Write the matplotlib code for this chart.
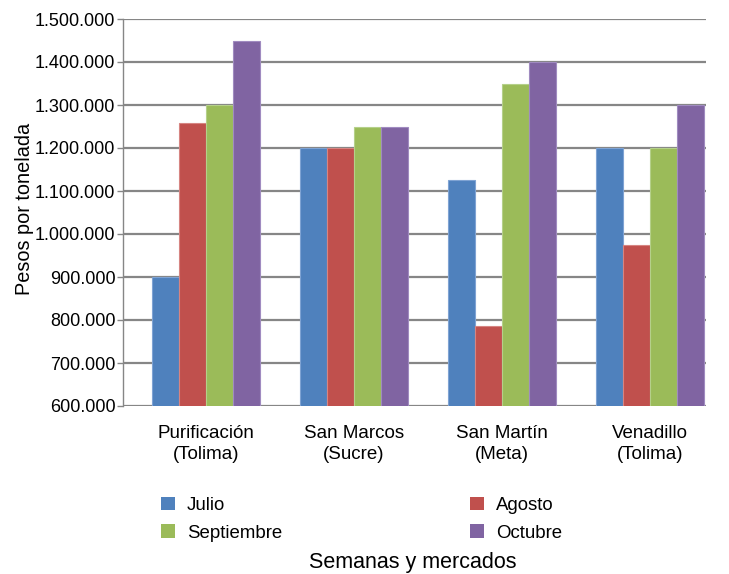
import matplotlib
matplotlib.use("Agg")
import matplotlib.pyplot as plt
import numpy as np
from matplotlib.ticker import FuncFormatter
from matplotlib.patches import Patch

categories = ["Purificación\n(Tolima)", "San Marcos\n(Sucre)", "San Martín\n(Meta)", "Venadillo\n(Tolima)"]
series_names = ["Julio", "Agosto", "Septiembre", "Octubre"]
julio = [900000, 1200000, 1125000, 1200000]
agosto = [1257000, 1200000, 785000, 975000]
septiembre = [1300000, 1250000, 1350000, 1200000]
octubre = [1450000, 1250000, 1400000, 1300000]
colors = ["#4F81BD", "#C0504D", "#9BBB59", "#8064A2"]
edges = ["#7FA3D3", "#D68582", "#B5D08A", "#A08BC0"]

plt.rcParams['font.family'] = ['Liberation Sans', 'DejaVu Sans']
fig = plt.figure(figsize=(7.29, 5.74), dpi=100)
ax = fig.add_axes([123/729, 1-406/574, (706-123)/729, (406-19)/574])

x = np.arange(len(categories))
w = 0.1824
data = [julio, agosto, septiembre, octubre]
handles = []
for i, (vals, c, e, n) in enumerate(zip(data, colors, edges, series_names)):
    ax.bar(x + (i - 1.5) * w, vals, width=w, color=c, edgecolor=e, linewidth=0.8, label=n, zorder=3)
    handles.append(Patch(facecolor=c, label=n))

ax.set_xlim(-0.561, 3.378)
ax.set_ylim(600000, 1500000)
ax.set_yticks(np.arange(600000, 1500001, 100000))
ax.yaxis.set_major_formatter(FuncFormatter(lambda v, p: f"{int(v):,}".replace(",", ".")))
ax.set_xticks(x)
ax.set_xticklabels(categories, fontsize=13.5, linespacing=1.25)
ax.tick_params(axis='y', labelsize=13, length=4, color="#868686", width=1, pad=1.5)
ax.tick_params(axis='x', length=0, pad=14)
ax.grid(axis='y', color="#868686", linewidth=1.6, zorder=0)
ax.set_axisbelow(True)
for s in ["top", "right", "bottom"]:
    ax.spines[s].set_visible(False)
ax.spines["left"].set_color("#868686")
ax.spines["left"].set_linewidth(1)

fig.text(25/729, 1-209/574, "Pesos por tonelada", rotation=90, ha="center", va="center", fontsize=14.3)

order = [handles[0], handles[2], handles[1], handles[3]]
fig.legend(handles=order, ncol=2, loc="upper left", bbox_to_anchor=(144.3/729, 1-480/574),
           frameon=False, fontsize=13.4, handlelength=0.75, handleheight=0.75,
           columnspacing=10.1, labelspacing=0.55, handletextpad=0.63)
fig.text(413/729, 1-568/574, "Semanas y mercados", ha="center", va="baseline", fontsize=15.5)

fig.savefig("out.png", dpi=100)
